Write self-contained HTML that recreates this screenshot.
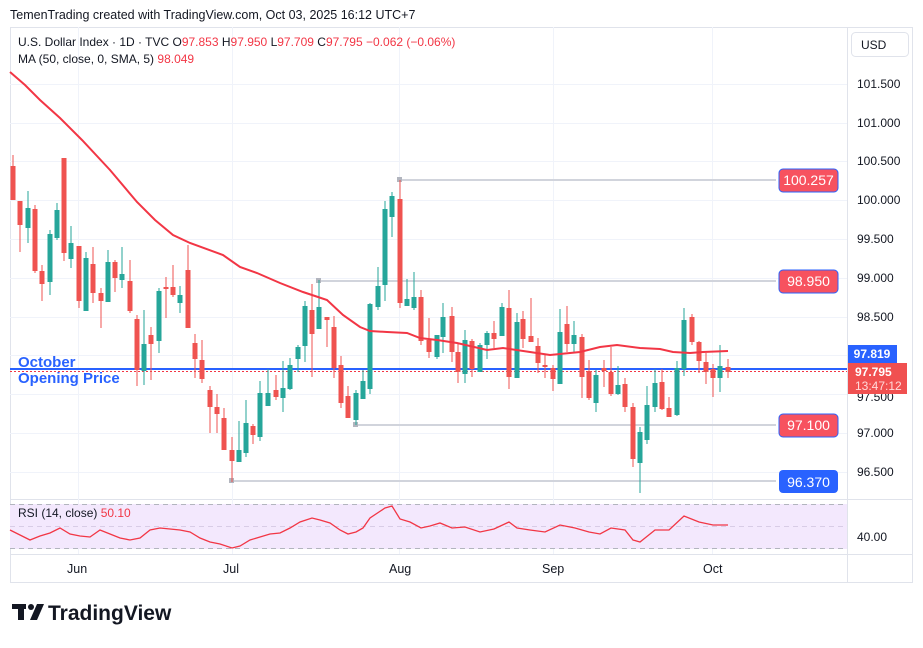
<!DOCTYPE html>
<html><head><meta charset="utf-8"><style>
body{margin:0;width:923px;height:643px;background:#fff;overflow:hidden;font-family:"Liberation Sans",sans-serif}
svg text{font-family:"Liberation Sans",sans-serif}
</style></head><body>
<svg id="s" width="923" height="643" xmlns="http://www.w3.org/2000/svg">
<text x="10" y="19" font-size="12.5" fill="#131722">TemenTrading created with TradingView.com, Oct 03, 2025 16:12 UTC+7</text>
<rect x="10.5" y="27.5" width="902" height="555" fill="none" stroke="#e0e3eb"/>
<line x1="847.5" y1="27" x2="847.5" y2="583" stroke="#e0e3eb"/>
<line x1="10" y1="499.5" x2="913" y2="499.5" stroke="#e0e3eb"/>
<line x1="10" y1="554.5" x2="913" y2="554.5" stroke="#e0e3eb"/>
<g id="grid" stroke="#f0f3fa"></g>
<rect x="10" y="504" width="837" height="45" fill="#f3e8fd"/>
<g stroke="#b2b5be" stroke-dasharray="5,4"><line x1="10" y1="504.5" x2="847" y2="504.5"/><line x1="10" y1="526.5" x2="847" y2="526.5" stroke="#d8cce6"/><line x1="10" y1="548.5" x2="847" y2="548.5"/></g>
<g id="lv"></g>
<line x1="10" y1="369" x2="847" y2="369" stroke="#2962ff" stroke-width="2"/>
<line x1="10" y1="371.5" x2="847" y2="371.5" stroke="#f23645" stroke-dasharray="2,2"/>
<g id="c"></g>
<polyline id="ma" fill="none" stroke="#f23645" stroke-width="2"/>
<polyline id="rsi" fill="none" stroke="#f23645" stroke-width="1.3"/>
<text x="18" y="367" font-size="15" font-weight="bold" fill="#2962ff">October</text>
<text x="18" y="383" font-size="15" font-weight="bold" fill="#2962ff">Opening Price</text>
<text x="18" y="46" font-size="12" fill="#131722">U.S. Dollar Index · 1D · TVC  O<tspan fill="#f23645">97.853</tspan>  H<tspan fill="#f23645">97.950</tspan>  L<tspan fill="#f23645">97.709</tspan>  C<tspan fill="#f23645">97.795</tspan>  <tspan fill="#f23645">−0.062 (−0.06%)</tspan></text>
<text x="18" y="63" font-size="12" fill="#131722">MA (50, close, 0, SMA, 5)  <tspan fill="#f23645">98.049</tspan></text>
<text x="18" y="517" font-size="12" fill="#131722">RSI (14, close)  <tspan fill="#f23645">50.10</tspan></text>
<rect x="851.5" y="32.5" width="57" height="24" rx="4" fill="#fff" stroke="#e0e3eb"/>
<text x="861" y="49" font-size="12" fill="#131722">USD</text>
<g font-size="12" fill="#131722" id="ax"></g>
<g font-size="12.5" fill="#131722"><text x="67" y="573">Jun</text><text x="223" y="573">Jul</text><text x="389" y="573">Aug</text><text x="542" y="573">Sep</text><text x="703" y="573">Oct</text></g>
<text x="857" y="541" font-size="12" fill="#131722">40.00</text>
<rect x="779" y="169" width="59" height="23" rx="4" fill="#f7525f" stroke="#2962ff"/><text x="808.5" y="185" font-size="14" fill="#fff" text-anchor="middle">100.257</text>
<rect x="779" y="270" width="59" height="23" rx="4" fill="#f7525f" stroke="#2962ff"/><text x="808.5" y="286" font-size="14" fill="#fff" text-anchor="middle">98.950</text>
<rect x="779" y="414" width="59" height="23" rx="4" fill="#f7525f" stroke="#2962ff"/><text x="808.5" y="430" font-size="14" fill="#fff" text-anchor="middle">97.100</text>
<rect x="779" y="470" width="59" height="23" rx="4" fill="#2962ff"/><text x="808.5" y="487" font-size="14" fill="#fff" text-anchor="middle">96.370</text>
<rect x="848" y="345" width="49" height="18" fill="#2962ff"/><text x="872" y="358" font-size="12" font-weight="bold" fill="#fff" text-anchor="middle">97.819</text>
<rect x="848" y="363" width="59" height="31" fill="#f05050"/><text x="855" y="376" font-size="12" font-weight="bold" fill="#fff">97.795</text><text x="855" y="390" font-size="12" fill="#ffd9d9">13:47:12</text>
<g fill="#131722"><rect x="12" y="604" width="14" height="5"/><rect x="18" y="604" width="6" height="16"/><circle cx="31" cy="607" r="3"/><path d="M30 620 L37 604 L44 604 L37 620Z"/></g>
<text x="48" y="620" font-size="21" font-weight="bold" fill="#131722">TradingView</text>
</svg>
<script>
const NS="http://www.w3.org/2000/svg";
function el(p,t,a){const e=document.createElementNS(NS,t);for(const k in a)e.setAttribute(k,a[k]);document.getElementById(p).appendChild(e);return e}
[84,123,161,200,239,278,317,355,394,433,472].forEach(y=>el("grid","line",{x1:10,x2:847,y1:y+.5,y2:y+.5}));
[78,232,399,553,712].forEach(x=>{el("grid","line",{x1:x+.5,x2:x+.5,y1:27,y2:499});el("grid","line",{x1:x+.5,x2:x+.5,y1:499,y2:554})});
const al=[["101.500",84],["101.000",123],["100.500",161],["100.000",200],["99.500",239],["99.000",278],["98.500",317],["97.500",397],["97.000",433],["96.500",472]];
al.forEach(a=>{const t=el("ax","text",{x:857,y:a[1]+4});t.textContent=a[0]});
[[400,180],[319,281],[356,425],[232,481]].forEach(l=>{el("lv","line",{x1:l[0],x2:776,y1:l[1],y2:l[1],stroke:"#d1d4dc","stroke-width":2});el("lv","rect",{x:l[0]-3,y:l[1]-3,width:5,height:5,fill:"#b2b5be"})});
// x, top, bottom, high, low, color(r/g)
const C=[[13,166,200,155,200,'r'],[20,201,225,201,252,'r'],[28,208,228,191,243,'g'],[35,209,271,205,273,'r'],[42,271,284,265,301,'r'],[50,234,282,230,295,'g'],[57,210,238,203,240,'g'],[64,158,253,158,261,'r'],[71,243,259,226,268,'g'],[79,246,301,246,308,'r'],[86,258,311,252,311,'g'],[93,264,293,247,303,'r'],[101,293,301,288,328,'r'],[108,262,302,250,302,'g'],[115,262,278,260,292,'r'],[122,274,280,247,288,'g'],[130,281,311,260,313,'r'],[137,319,370,315,386,'r'],[144,344,371,310,385,'g'],[151,335,344,327,380,'r'],[159,291,341,288,353,'g'],[166,287,289,277,318,'r'],[173,287,295,265,297,'r'],[180,295,303,286,313,'g'],[188,270,328,245,328,'r'],[195,343,359,334,378,'r'],[202,360,379,340,383,'r'],[210,390,407,386,433,'r'],[217,407,414,394,433,'r'],[224,418,450,408,450,'r'],[232,450,461,437,482,'r'],[239,450,462,421,462,'g'],[246,423,453,400,457,'g'],[253,426,435,424,444,'r'],[260,393,437,381,441,'g'],[268,393,406,369,406,'g'],[276,390,397,375,400,'r'],[283,388,398,361,412,'g'],[290,365,389,358,390,'g'],[298,347,359,345,372,'g'],[305,306,346,301,362,'g'],[312,310,334,284,377,'r'],[319,307,329,280,329,'g'],[327,317,320,317,347,'r'],[334,327,368,316,378,'r'],[341,365,403,356,408,'r'],[348,396,418,386,418,'r'],[356,393,420,390,425,'g'],[363,381,399,370,399,'g'],[370,304,389,303,394,'g'],[378,286,307,267,310,'g'],[385,209,285,201,301,'g'],[392,196,217,192,237,'g'],[400,199,303,180,308,'r'],[407,299,306,279,306,'g'],[414,297,308,272,310,'g'],[421,297,341,290,345,'r'],[429,340,352,318,358,'r'],[437,335,357,335,359,'g'],[443,317,337,303,353,'g'],[452,316,352,307,362,'r'],[458,352,372,343,383,'r'],[465,340,374,330,383,'g'],[472,341,369,339,377,'r'],[480,345,372,343,372,'g'],[487,333,345,331,359,'g'],[494,333,339,321,348,'r'],[502,307,336,303,336,'g'],[509,308,377,290,389,'r'],[517,322,378,313,378,'g'],[523,319,339,311,348,'r'],[531,336,342,298,342,'r'],[538,346,363,338,373,'r'],[545,365,367,355,378,'r'],[553,368,379,365,391,'r'],[560,332,384,309,384,'g'],[567,324,344,306,352,'r'],[574,335,344,321,353,'g'],[582,337,377,334,398,'r'],[589,371,398,360,400,'r'],[596,375,403,370,412,'g'],[604,368,371,360,387,'r'],[611,372,394,347,396,'r'],[618,385,394,366,395,'g'],[625,384,407,378,412,'r'],[633,407,459,403,467,'r'],[640,432,463,427,493,'g'],[647,405,440,386,444,'g'],[655,383,407,369,412,'g'],[662,382,409,369,410,'r'],[669,408,417,397,417,'r'],[677,368,415,361,416,'g'],[684,320,369,308,376,'g'],[692,317,342,314,345,'r'],[699,342,361,341,373,'r'],[706,362,372,353,384,'r'],[713,369,378,364,397,'r'],[720,366,378,345,392,'g'],[728,367,372,359,378,'r']];
C.forEach(c=>{const col=c[5]=='r'?'#ef5350':'#26a69a';el("c","line",{x1:c[0],x2:c[0],y1:c[3],y2:c[4],stroke:col,"stroke-width":1});el("c","rect",{x:c[0]-2.5,y:c[1],width:5,height:Math.max(1.5,c[2]-c[1]),fill:col})});
document.getElementById("ma").setAttribute("points","10,72 25,85 40,100 60,118 82,140 110,170 137,202 155,220 173,235 190,243 223,255 240,267 257,273 280,283 303,292 315,296 327,300 343,315 360,327 370,331 387,332 407,333 420,338 437,340 457,343 487,350 503,348 530,352 550,355 580,352 600,347 617,345 640,348 660,349 673,352 690,353 703,352 728,351");
document.getElementById("rsi").setAttribute("points","10,530 20,535 30,540 40,536 50,533 60,528 70,534 80,536 90,537 100,530 110,534 120,538 130,540 140,538 150,530 160,528 170,529 180,530 190,532 200,538 210,542 220,544 232,548 240,546 250,540 260,537 270,534 280,533 290,528 300,522 312,518 320,520 330,523 340,530 348,534 356,532 363,528 370,518 385,508 392,506 400,519 410,522 421,528 430,526 440,523 452,528 465,527 480,532 494,529 509,522 517,528 530,530 545,532 560,525 575,528 589,532 600,534 611,528 625,530 633,540 640,542 655,530 669,530 684,516 699,522 713,525 728,525");
</script>
</body></html>
